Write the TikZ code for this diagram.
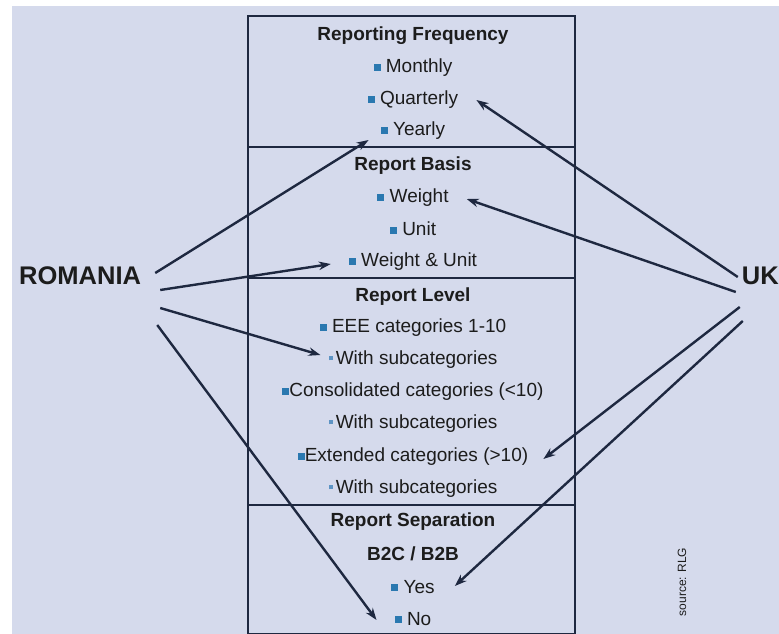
\documentclass[tikz,border=0pt]{standalone}
\usepackage{fontspec}
\setmainfont{Liberation Sans}
\usetikzlibrary{arrows.meta}
\definecolor{bgblue}{HTML}{D5DAEC}
\definecolor{navy}{HTML}{1E2840}
\definecolor{bulletblue}{HTML}{2A78B0}
\definecolor{dotblue}{HTML}{5E94C4}
\definecolor{txt}{HTML}{1C1C1C}
\newcommand\bsq{\textcolor{bulletblue}{\rule[2pt]{7pt}{7pt}}}
\newcommand\bdot{\textcolor{dotblue}{\rule[4.5pt]{4pt}{4pt}}\,}
\tikzset{
  head/.style={font=\bfseries\fontsize{19}{22}\selectfont, text=txt, inner sep=2pt},
  item/.style={font=\fontsize{19}{22}\selectfont, text=txt, inner sep=2pt},
  country/.style={font=\bfseries\fontsize{25.5}{28}\selectfont, text=txt, inner sep=0pt},
  arr/.style={draw=navy, line width=2.4pt, -{Stealth[length=12pt,width=8.5pt]}}
}
\begin{document}
\begin{tikzpicture}[x=1pt,y=-1pt]
    \useasboundingbox (0,0) rectangle (779,634);
    \fill[white] (0,0) rectangle (779,634);
    \fill[bgblue] (12,6) rectangle (779,634);
    % the table in the middle
    \draw[navy, line width=2pt] (248,16) rectangle (575,634);
    \draw[navy, line width=1.4pt] (248,147) -- (575,147);
    \draw[navy, line width=1.4pt] (248,278) -- (575,278);
    \draw[navy, line width=1.4pt] (248,505) -- (575,505);

    \node[head] (freq) at (413,36) {Reporting Frequency};
    \node[item] (monthly) at (413,68) {\bsq{} Monthly};
    \node[item] (quarterly) at (413,100) {\bsq{} Quarterly};
    \node[item] (yearly) at (413,131) {\bsq{} Yearly};

    \node[head] (basis) at (413,166) {Report Basis};
    \node[item] (weight) at (413,198) {\bsq{} Weight};
    \node[item] (unit) at (413,229) {\bsq{} Unit};
    \node[item] (wu) at (413,262) {\bsq{} Weight \& Unit};

    \node[head] (level) at (413,297) {Report Level};
    \node[item] (eee) at (413,328) {\bsq{} EEE categories 1-10};
    \node[item] (sub1) at (413,360) {\bdot With subcategories};
    \node[item] (cons) at (413,392) {\bsq Consolidated categories (<10)};
    \node[item] (sub2) at (413,424) {\bdot With subcategories};
    \node[item] (ext) at (413,457) {\bsq Extended categories (>10)};
    \node[item] (sub3) at (413,489) {\bdot With subcategories};

    \node[head] (sep) at (413,522) {Report Separation};
    \node[head] (b2c) at (413,554) {B2C / B2B};
    \node[item] (yes) at (413,587) {\bsq{} Yes};
    \node[item] (no) at (413,619) {\bsq{} No};

    % the two countries
    \node[country, anchor=west] (romania) at (19,276) {ROMANIA};
    \node[country, anchor=east] (uk) at (779,276) {UK};
    \node[rotate=90, font=\fontsize{12}{14}\selectfont, text=txt] (src) at (682,582) {source: RLG};

    \draw[arr] ([shift={(14,-3)}]romania.east) -- ([shift={(-10,9)}]yearly.west);
    \draw[arr] ([shift={(19,14)}]romania.east) -- ([shift={(-16,2)}]wu.west);
    \draw[arr] ([shift={(19,32)}]romania.east) -- ([shift={(-6,-5)}]sub1.west);
    \draw[arr] ([shift={(16,49)}]romania.east) -- ([shift={(-16,1)}]no.west);

    \draw[arr] ([shift={(-4,1)}]uk.west) -- ([shift={(16,0)}]quarterly.east);
    \draw[arr] ([shift={(-6,16)}]uk.west) -- ([shift={(16,1)}]weight.east);
    \draw[arr] ([shift={(-2,31)}]uk.west) -- ([shift={(13,2)}]ext.east);
    \draw[arr] ([shift={(1,45)}]uk.west) -- ([shift={(18,-1)}]yes.east);
\end{tikzpicture}
\end{document}
